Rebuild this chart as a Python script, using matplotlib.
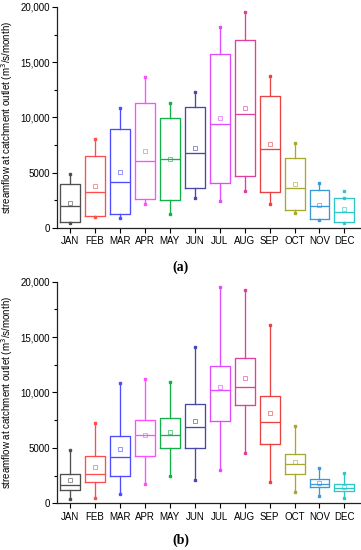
import matplotlib
matplotlib.use("Agg")
import matplotlib.pyplot as plt
from matplotlib.ticker import FuncFormatter, MultipleLocator

plt.rcParams["font.family"] = ["Liberation Sans", "DejaVu Sans"]

months = ["JAN", "FEB", "MAR", "APR", "MAY", "JUN", "JUL", "AUG", "SEP", "OCT", "NOV", "DEC"]
colors = ["#505050", "#ff4d4d", "#4d4dff", "#ff4dff", "#14b04a", "#4848a8",
          "#e04dff", "#e0409a", "#e84444", "#a8a830", "#3a9ad6", "#2cc8c8"]

# panel (a)
a_whi = [4860, 8030, 10890, 13640, 11310, 12280, 18190, 19550, 13780, 7660, 4100, 2715]
a_q3 = [3955, 6516, 8960, 11340, 9925, 10950, 15720, 17010, 11975, 6365, 3410, 2715]
a_med = [1960, 3230, 4190, 6090, 6270, 6815, 9385, 10290, 7120, 3650, 1960, 1420]
a_q1 = [516, 1086, 1267, 2597, 2534, 3590, 4100, 4735, 3260, 1600, 815, 516]
a_wlo = [425, 1020, 876, 2145, 1296, 2690, 2470, 3350, 2170, 1390, 695, 480]
a_mean = [2260, 3800, 5100, 7000, 6270, 7270, 9925, 10890, 7630, 4010, 2110, 1720]
a_out = {11: [3300]}

# panel (b)
b_whi = [4780, 7220, 10860, 11220, 10920, 14110, 19490, 19250, 16090, 6950, 3190, 2760]
b_q3 = [2620, 4240, 6100, 7545, 7670, 8935, 12420, 13090, 9710, 4420, 2220, 1740]
b_med = [1620, 2670, 4150, 6190, 6160, 6910, 10250, 10470, 7370, 3575, 1740, 1410]
b_q1 = [1170, 1895, 2465, 4300, 4965, 4965, 7400, 8845, 5350, 2645, 1500, 1110]
b_wlo = [360, 450, 810, 1770, 2490, 2100, 2980, 4570, 1950, 1050, 660, 480]
b_mean = [2075, 3275, 4870, 6190, 6435, 7430, 10520, 11280, 8100, 3700, 1860, 1500]
b_out = {}


def fmt(v, pos):
    v = int(round(v))
    return f"{v:,}" if v >= 10000 else str(v)


def draw_panel(ax, whi, q3, med, q1, wlo, mean, out):
    for i in range(len(months)):
        c = colors[i]
        pos = i + 1
        stats = [dict(whislo=wlo[i], q1=q1[i], med=med[i], q3=q3[i], whishi=whi[i],
                      mean=mean[i], fliers=out.get(i, []))]
        ax.bxp(stats, positions=[pos], widths=0.8, showmeans=True, showcaps=False,
               showfliers=True,
               boxprops=dict(color=c, lw=0.95),
               medianprops=dict(color=c, lw=0.95),
               whiskerprops=dict(color=c, lw=0.95),
               meanprops=dict(marker="s", markersize=3.2, markerfacecolor="none",
                              markeredgecolor=c, markeredgewidth=0.6, alpha=0.7),
               flierprops=dict(marker="s", markersize=1.8, markerfacecolor=c,
                               markeredgecolor=c))
        # small square markers at the whisker ends
        ax.plot([pos, pos], [wlo[i], whi[i]], ls="none", marker="s", ms=1.8,
                color=c)
    ax.set_xlim(0.48, 12.62)
    ax.set_ylim(0, 20000)
    ax.set_xticks(range(1, 13))
    ax.set_xticklabels(months, fontsize=7)
    ax.yaxis.set_major_locator(MultipleLocator(5000))
    ax.yaxis.set_minor_locator(MultipleLocator(2500))
    ax.yaxis.set_major_formatter(FuncFormatter(fmt))
    ax.tick_params(axis="y", labelsize=7, length=3.5, width=0.8, direction="out", pad=1.5)
    ax.tick_params(axis="y", which="minor", length=2, width=0.8)
    ax.tick_params(axis="x", length=3.5, width=0.8, direction="out", pad=2.5)
    for s in ["top", "right"]:
        ax.spines[s].set_visible(False)
    for s in ["left", "bottom"]:
        ax.spines[s].set_linewidth(0.9)
        ax.spines[s].set_color("#222222")
    ax.set_ylabel("streamflow at catchment outlet (m$^3$/s/month)", fontsize=7, labelpad=4)


fig = plt.figure(figsize=(3.61, 5.5), dpi=100)
ax_a = fig.add_axes([0.158, 0.5855, 0.839, 0.402])
ax_b = fig.add_axes([0.158, 0.085, 0.839, 0.403])

draw_panel(ax_a, a_whi, a_q3, a_med, a_q1, a_wlo, a_mean, a_out)
draw_panel(ax_b, b_whi, b_q3, b_med, b_q1, b_wlo, b_mean, b_out)

fig.text(0.5, 1 - 267 / 550, "(a)", ha="center", va="center", fontsize=10,
         fontweight="bold", family=["Liberation Serif", "DejaVu Serif"])
fig.text(0.5, 1 - 540 / 550, "(b)", ha="center", va="center", fontsize=10,
         fontweight="bold", family=["Liberation Serif", "DejaVu Serif"])

fig.savefig("out.png", dpi=100)
